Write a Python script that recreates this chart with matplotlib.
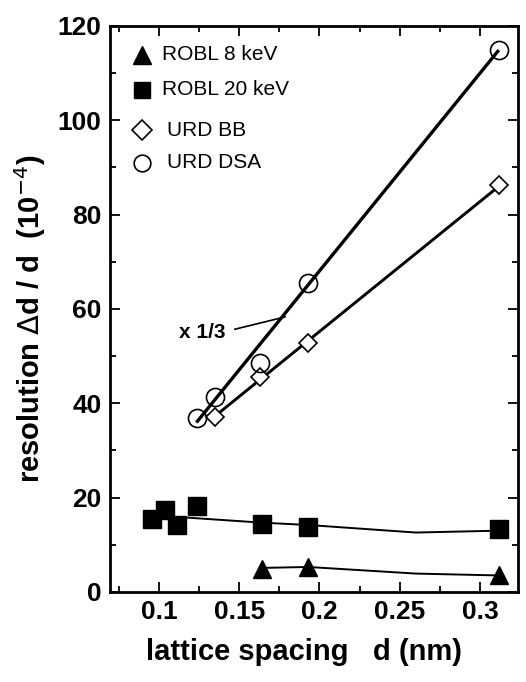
import numpy as np
import matplotlib
matplotlib.use("Agg")
import matplotlib.pyplot as plt
from matplotlib.ticker import MultipleLocator

plt.rcParams['font.family'] = ['Liberation Sans', 'DejaVu Sans']

# ROBL 8 keV
d_robl8 = [0.164, 0.193, 0.312]
r_robl8 = [4.9, 5.3, 3.6]
fit_d_robl8 = [0.164, 0.193, 0.26, 0.312]
fit_r_robl8 = [5.1, 5.3, 3.9, 3.5]

# ROBL 20 keV
d_robl20 = [0.096, 0.104, 0.111, 0.124, 0.164, 0.193, 0.312]
r_robl20 = [15.5, 17.4, 14.2, 18.2, 14.4, 13.8, 13.3]
fit_d_robl20 = [0.116, 0.164, 0.193, 0.26, 0.312]
fit_r_robl20 = [15.8, 14.7, 14.2, 12.6, 13.0]

# URD BB
d_bb = [0.135, 0.163, 0.193, 0.312]
r_bb = [37.1, 45.6, 52.7, 86.2]
fit_d_bb = [0.135, 0.311]
fit_r_bb = [37.3, 85.8]

# URD DSA (x 1/3)
d_dsa = [0.124, 0.135, 0.163, 0.193, 0.312]
r_dsa = [36.9, 41.3, 48.6, 65.5, 114.8]
fit_d_dsa = [0.124, 0.311]
fit_r_dsa = [36.2, 114.6]

# leader line of the "x 1/3" note
note_d = [0.1473, 0.1785]
note_r = [55.7, 58.3]

legend_labels = ['ROBL 8 keV', 'ROBL 20 keV', 'URD BB', 'URD DSA']

fig = plt.figure(figsize=(5.26, 6.82), dpi=100)
ax = fig.add_axes([0.209, 0.132, 0.776, 0.830])

# fit lines
ax.plot(fit_d_dsa, fit_r_dsa, color='black', lw=2.4, zorder=2)
ax.plot(fit_d_bb, fit_r_bb, color='black', lw=2.1, zorder=2)
ax.plot(fit_d_robl20, fit_r_robl20, color='black', lw=1.4, zorder=2)
ax.plot(fit_d_robl8, fit_r_robl8, color='black', lw=1.4, zorder=2)

# data points
sty_robl8 = dict(marker='^', color='black', ms=13.5, ls='none')
sty_robl20 = dict(marker='s', color='black', ms=13, ls='none')
sty_bb = dict(marker='D', mfc='white', mec='black', mew=1.2, ms=9, ls='none')
sty_dsa = dict(marker='o', mfc='none', mec='black', mew=1.2, ms=13, ls='none')
ax.plot(d_robl8, r_robl8, zorder=3, **sty_robl8)
ax.plot(d_robl20, r_robl20, zorder=3, **sty_robl20)
ax.plot(d_bb, r_bb, zorder=3, **sty_bb)
ax.plot(d_dsa, r_dsa, zorder=3, **sty_dsa)

# x 1/3 note
ax.plot(note_d, note_r, color='black', lw=1.2)
ax.text(0.127, 55.0, 'x 1/3', ha='center', va='center', fontsize=15, fontweight='bold')

# legend drawn by hand (axes fraction)
leg_y = [0.949, 0.887, 0.816, 0.758]
leg_tx = [0.127, 0.127, 0.140, 0.140]
leg_sty = [dict(sty_robl8, ms=13), dict(sty_robl20, ms=11),
           dict(sty_bb, ms=10), dict(sty_dsa, ms=12)]
for y, tx, sty, lab in zip(leg_y, leg_tx, leg_sty, legend_labels):
    ax.plot([0.078], [y], transform=ax.transAxes, clip_on=False, **sty)
    ax.text(tx, y, lab, transform=ax.transAxes, ha='left', va='center',
            fontsize=15)

ax.set_xlim(0.0695, 0.3237)
ax.set_ylim(0, 120)
ax.xaxis.set_minor_locator(MultipleLocator(0.025))
ax.yaxis.set_major_locator(MultipleLocator(20))
ax.yaxis.set_minor_locator(MultipleLocator(10))
ax.set_xticks([0.1, 0.15, 0.2, 0.25, 0.3])
ax.set_xticklabels(['0.1', '0.15', '0.2', '0.25', '0.3'])

ax.tick_params(which='both', direction='in', top=True, right=True, width=1.3)
ax.tick_params(which='major', length=7, labelsize=19, pad=6)
ax.tick_params(which='minor', length=4)
for lab in ax.get_xticklabels() + ax.get_yticklabels():
    lab.set_fontweight('bold')
for sp in ax.spines.values():
    sp.set_linewidth(2)

ax.set_xlabel('lattice spacing   d (nm)', fontsize=21, fontweight='bold')
ax.set_ylabel('resolution $\\Delta$d / d  (10$^{-4}$)', fontsize=21,
              fontweight='bold')
ax.xaxis.set_label_coords(0.475, -0.081)
ax.yaxis.set_label_coords(-0.152, 0.482)

fig.savefig('out.png', dpi=100)
